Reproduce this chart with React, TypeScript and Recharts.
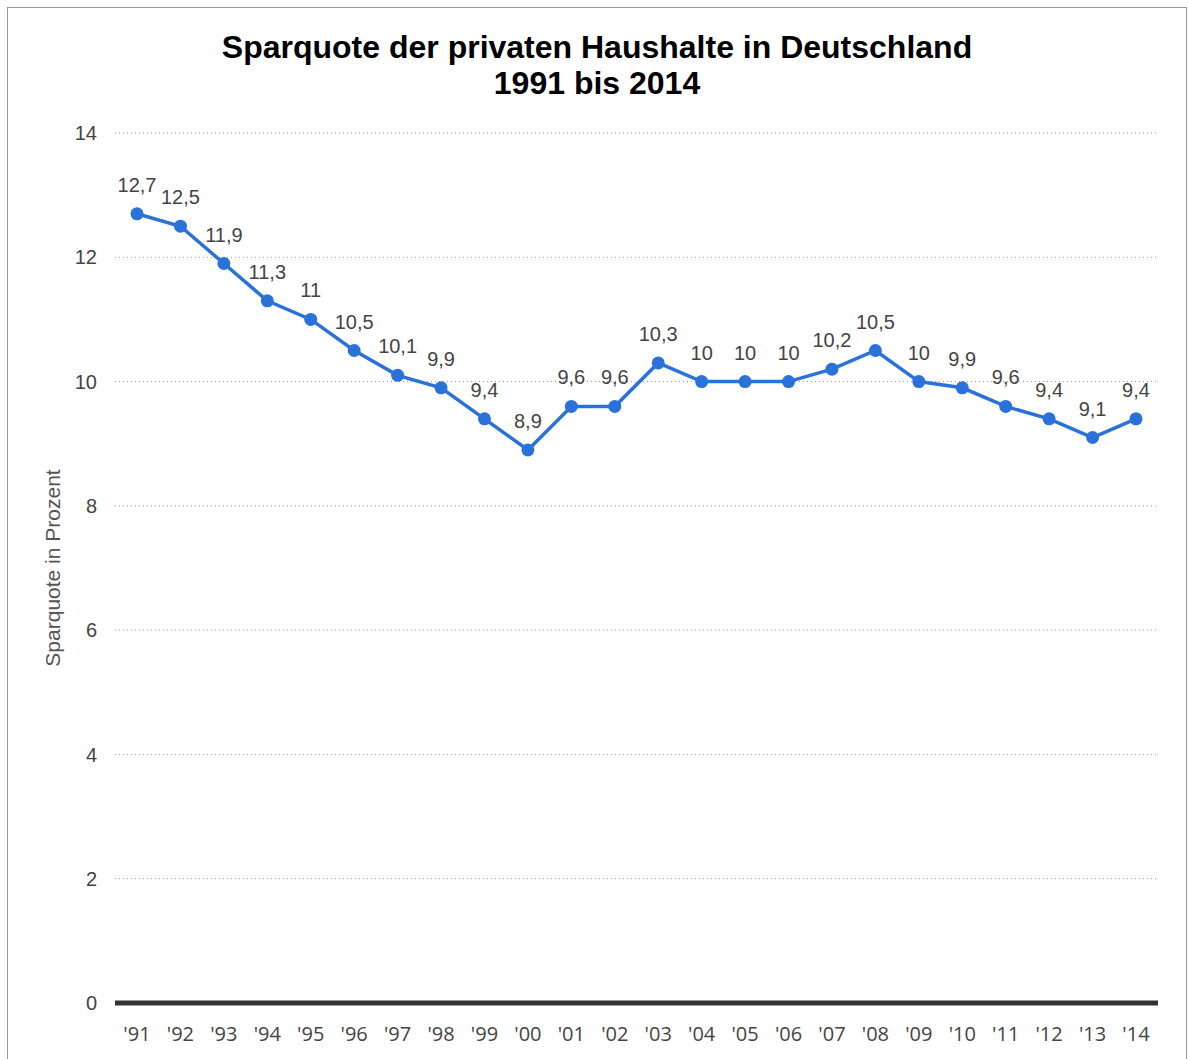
import { CartesianGrid, LabelList, Line, LineChart, XAxis, YAxis } from "recharts";

const years = [
  "'91", "'92", "'93", "'94", "'95", "'96", "'97", "'98", "'99", "'00", "'01", "'02",
  "'03", "'04", "'05", "'06", "'07", "'08", "'09", "'10", "'11", "'12", "'13", "'14",
];
const sparquote = [
  12.7, 12.5, 11.9, 11.3, 11, 10.5, 10.1, 9.9, 9.4, 8.9, 9.6, 9.6,
  10.3, 10, 10, 10, 10.2, 10.5, 10, 9.9, 9.6, 9.4, 9.1, 9.4,
];
const yTicks = [0, 2, 4, 6, 8, 10, 12, 14];

const data = years.map((year, i) => ({ year, value: sparquote[i] }));

const blue = "#2a72d9";

export default function App() {
  return (
    <div
      style={{
        position: "absolute",
        left: 7,
        top: 7,
        width: 1178,
        height: 1060,
        border: "1px solid #999",
        background: "#fff",
        fontFamily: "'Liberation Sans', Arial, sans-serif",
      }}
    >
      <div
        style={{
          position: "absolute",
          left: 0,
          right: 0,
          top: 21,
          textAlign: "center",
          fontWeight: "bold",
          fontSize: 32,
          lineHeight: "36px",
          color: "#000",
          zIndex: 1,
        }}
      >
        Sparquote der privaten Haushalte in Deutschland
        <br />
        1991 bis 2014
      </div>
      <LineChart
        width={1178}
        height={1060}
        data={data}
        margin={{ top: 125, right: 28, bottom: 25, left: 47 }}
      >
        <CartesianGrid vertical={false} stroke="#999" strokeDasharray="1 3" />
        <XAxis
          dataKey="year"
          height={40}
          padding={{ left: 22, right: 22 }}
          tickLine={false}
          tickSize={0}
          tickMargin={24}
          axisLine={{ stroke: "#333", strokeWidth: 5 }}
          tick={{ fill: "#444", fontSize: 20, fontFamily: "'Open Sans', sans-serif" }}
          interval={0}
        />
        <YAxis
          width={60}
          domain={[0, 14]}
          ticks={yTicks}
          tickLine={false}
          axisLine={false}
          tickSize={0}
          tickMargin={18}
          tick={{ fill: "#444", fontSize: 20 }}
          label={{
            value: "Sparquote in Prozent",
            angle: -90,
            position: "insideLeft",
            offset: -2,
            style: { fill: "#555", fontSize: 21, textAnchor: "middle" },
          }}
        />
        <Line
          dataKey="value"
          stroke={blue}
          strokeWidth={3.5}
          dot={{ r: 6.5, fill: blue, stroke: "none" }}
          activeDot={false}
          isAnimationActive={false}
        >
          <LabelList
            dataKey="value"
            position="top"
            offset={22}
            fill="#444"
            fontSize={20}
            formatter={(v: any) => String(v).replace(".", ",")}
          />
        </Line>
      </LineChart>
    </div>
  );
}
